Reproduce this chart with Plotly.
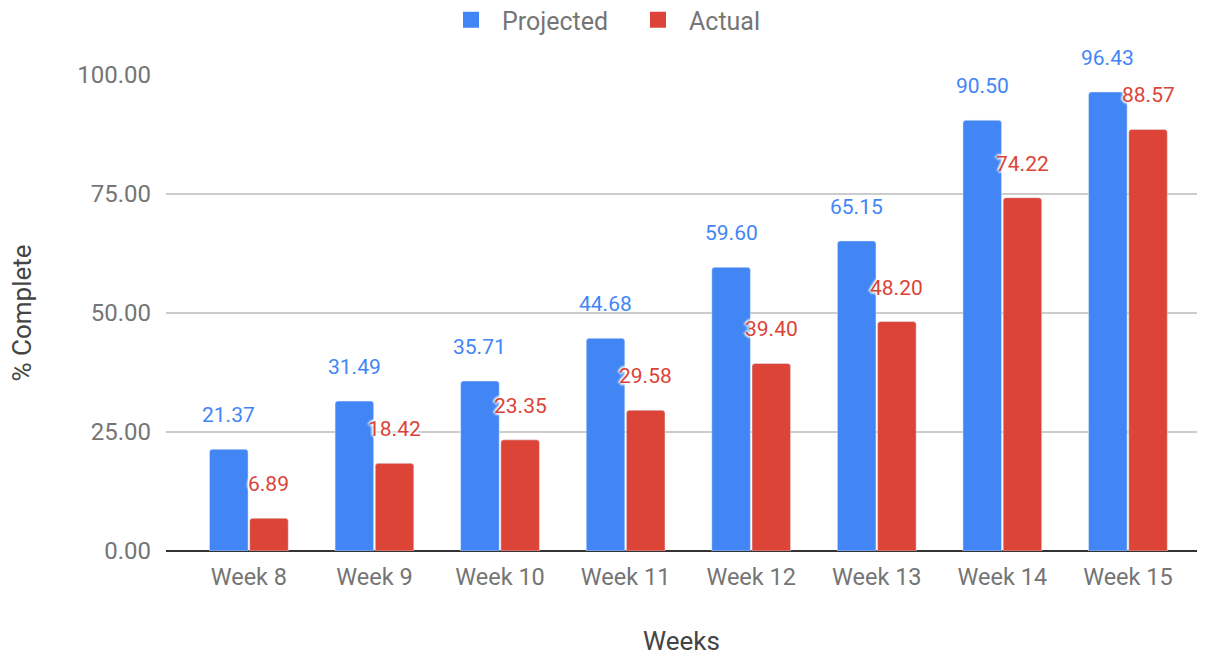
import plotly.graph_objects as go

weeks = ["Week 8", "Week 9", "Week 10", "Week 11", "Week 12", "Week 13", "Week 14", "Week 15"]
projected = [21.37, 31.49, 35.71, 44.68, 59.60, 65.15, 90.50, 96.43]
actual = [6.89, 18.42, 23.35, 29.58, 39.40, 48.20, 74.22, 88.57]
y_ticks = [0, 25, 50, 75, 100]

BLUE = "#4285F4"
RED = "#DB4437"
FONT = "Roboto, Arial, sans-serif"
BARGAP = 0.36
BARGROUPGAP = 0.04

fig = go.Figure()
fig.add_trace(go.Bar(x=weeks, y=projected, name="Projected", marker=dict(color=BLUE, cornerradius=3),
                     showlegend=False))
fig.add_trace(go.Bar(x=weeks, y=actual, name="Actual", marker=dict(color=RED, cornerradius=3),
                     showlegend=False))
# legend swatches
fig.add_trace(go.Scatter(x=[None], y=[None], mode="markers", name="Projected",
                         marker=dict(symbol="square", size=16, color=BLUE)))
fig.add_trace(go.Scatter(x=[None], y=[None], mode="markers", name="Actual",
                         marker=dict(symbol="square", size=16, color=RED)))

off = (1 - BARGAP) / 4
halo = "-2px 0 2px white, 2px 0 2px white, 0 -2px 2px white, 0 2px 2px white"
annotations = []
for i, (p, a) in enumerate(zip(projected, actual)):
    annotations.append(dict(x=i - off, y=p, text=f"{p:.2f}", showarrow=False, yanchor="bottom",
                            yshift=20, font=dict(family=FONT, size=21, color=BLUE)))
    annotations.append(dict(x=i + off, y=a, text=f"{a:.2f}", showarrow=False, yanchor="bottom",
                            yshift=20, font=dict(family=FONT, size=21, color=RED, shadow=halo)))

fig.update_layout(
    width=1212, height=656,
    margin=dict(l=166, r=15, t=75, b=105),
    paper_bgcolor="white", plot_bgcolor="white",
    barmode="group", bargap=BARGAP, bargroupgap=BARGROUPGAP,
    font=dict(family=FONT, size=23, color="#757575"),
    legend=dict(orientation="h", xref="container", x=440 / 1212, xanchor="left",
                yref="container", y=1 - 20 / 656, yanchor="middle",
                font=dict(family=FONT, size=25, color="#757575"), itemwidth=52,
                entrywidth=120),
    annotations=annotations,
)
fig.update_xaxes(
    range=[-0.66, 7.55], showgrid=False, ticks="", ticklabelstandoff=9, automargin=False,
    tickfont=dict(family=FONT, size=23.5, color="#757575"),
    title=dict(text="Weeks", font=dict(family=FONT, size=26, color="#444444"), standoff=42),
)
fig.update_yaxes(
    range=[0, 100], tickvals=y_ticks, tickformat=".2f", automargin=False,
    showgrid=True, gridcolor="#cccccc", gridwidth=1.5,
    zeroline=True, zerolinecolor="#333333", zerolinewidth=2,
    ticks="", ticklabelstandoff=14,
    tickfont=dict(family=FONT, size=24, color="#757575"),
    title=dict(text="% Complete", font=dict(family=FONT, size=26, color="#444444"), standoff=38),
)

fig.write_html("out.html")
